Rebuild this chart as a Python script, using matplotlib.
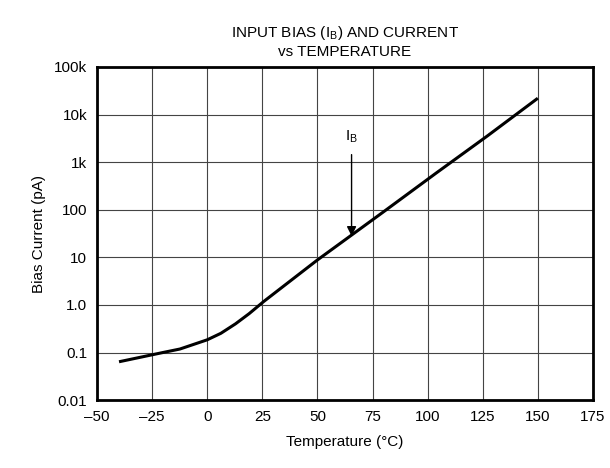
import numpy as np
import matplotlib.pyplot as plt

plt.rcParams['font.family'] = ['Liberation Sans', 'DejaVu Sans']

# ── Data ───────────────────────────────────────────────────────
temp_c = [-40, -25, -12.5, 0, 6, 12.5, 18.75, 25, 37.5, 50, 75, 100, 125, 150]
bias_pa = [0.064, 0.09, 0.118, 0.185, 0.25, 0.39, 0.64, 1.12, 3.15, 8.8,
           61, 437, 3000, 22000]

x_ticks = [-50, -25, 0, 25, 50, 75, 100, 125, 150, 175]
x_tick_labels = ["–50", "–25", "0", "25", "50", "75", "100", "125", "150", "175"]
y_ticks = [0.01, 0.1, 1, 10, 100, 1e3, 1e4, 1e5]
y_tick_labels = ["0.01", "0.1", "1.0", "10", "100", "1k", "10k", "100k"]

fig, ax = plt.subplots(figsize=(6.1, 4.68), dpi=100)
fig.subplots_adjust(left=0.159, right=0.972, top=0.857, bottom=0.145)

ax.set_yscale("log")
ax.set_xlim(-50, 175)
ax.set_ylim(0.01, 1e5)

# curve through read points (log space)
xs = np.linspace(temp_c[0], temp_c[-1], 400)
ys = 10 ** np.interp(xs, temp_c, np.log10(bias_pa))
ax.plot(xs, ys, color="black", lw=2.2, solid_capstyle="butt")

ax.set_xticks(x_ticks)
ax.set_xticklabels(x_tick_labels)
ax.set_yticks(y_ticks)
ax.set_yticklabels(y_tick_labels)
ax.minorticks_off()
ax.tick_params(length=0, labelsize=11, pad=7)
ax.grid(True, color="#444444", lw=0.8)
for s in ax.spines.values():
    s.set_linewidth(2)

ax.set_xlabel("Temperature (°C)", fontsize=11, labelpad=8)
ax.set_ylabel("Bias Current (pA)", fontsize=11, labelpad=6)
ax.set_title("INPUT BIAS (I$_\\mathregular{B}$) AND CURRENT\nvs TEMPERATURE",
             fontsize=11, linespacing=1.3, pad=8)

# I_B annotation
ax.annotate("I$_\\mathregular{B}$", xy=(65.5, 28), xytext=(65.5, 2300),
            ha="center", va="bottom", fontsize=11,
            arrowprops=dict(arrowstyle="-|>", color="black", lw=1,
                            mutation_scale=14, shrinkA=5, shrinkB=0))

plt.savefig("out.png", dpi=100)
